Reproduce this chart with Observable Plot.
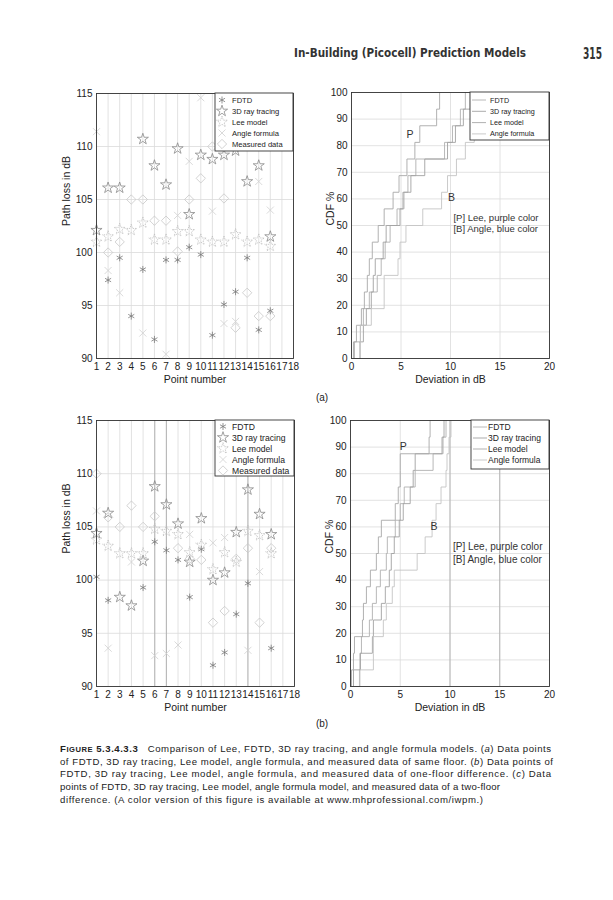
<!DOCTYPE html>
<html><head><meta charset="utf-8">
<script src="https://cdn.jsdelivr.net/npm/d3@7"></script>
<script src="https://cdn.jsdelivr.net/npm/@observablehq/plot@0.6"></script>
<style>
html,body{margin:0;padding:0;background:#fff;}
#page{position:relative;width:613px;height:900px;overflow:hidden;font-family:"Liberation Sans",Arial,sans-serif;}
#page svg{max-width:none;}
</style></head><body><div id="page"></div>
<script>
// ---------- data ----------
const pointNumbers = [1,2,3,4,5,6,7,8,9,10,11,12,13,14,15,16];
const pointTicks = [1,2,3,4,5,6,7,8,9,10,11,12,13,14,15,16,17,18];
const pathLossTicks = [90,95,100,105,110,115];
const deviationTicks = [0,5,10,15,20];
const cdfTicks = [0,10,20,30,40,50,60,70,80,90,100];
const cdfLevels = [0,6.25,12.5,18.75,25,31.25,37.5,43.75,50,56.25,62.5,68.75,75,81.25,87.5,93.75,100];
const seriesNames = ["FDTD","3D ray tracing","Lee model","Angle formula","Measured data"];

// (a) same floor
const fdtdA  = [null,97.4,99.5,94.0,98.4,91.8,99.3,99.3,100.5,99.8,92.2,95.1,96.3,99.5,92.7,94.5];
const rayA   = [102.1,106.1,106.1,null,110.7,108.2,106.4,109.8,103.6,109.2,108.8,109.2,109.6,106.7,108.2,101.5];
const leeA   = [101.0,101.5,102.2,102.1,102.8,101.2,101.2,102.0,102.0,101.2,101.0,101.0,101.7,101.0,101.2,100.6];
const angleA = [111.4,98.3,96.2,null,92.4,null,90.4,103.5,108.6,114.6,103.9,93.3,93.5,null,106.7,104.0];
const measA  = [null,100.0,101.0,105.0,105.0,103.0,103.0,100.1,105.0,107.0,110.0,105.1,92.9,96.2,94.0,94.0];

// (b) one-floor difference
const fdtdB  = [100.3,98.1,null,null,99.3,103.6,102.8,101.9,98.4,102.9,92.0,93.2,96.8,99.7,null,93.6];
const rayB   = [104.4,106.3,98.4,97.6,101.8,108.8,107.1,105.3,101.7,105.8,100.0,100.7,104.5,108.5,106.2,104.3];
const leeB   = [103.8,103.2,102.5,102.5,102.5,104.8,104.6,104.3,102.6,103.3,101.0,102.6,101.7,104.6,104.2,102.5];
const angleB = [106.5,93.6,null,101.7,null,92.9,93.1,93.9,104.3,null,103.5,104.0,null,93.4,100.8,null];
const measB  = [110.0,105.9,105.0,107.0,105.0,106.0,null,103.0,102.0,101.9,96.0,97.1,102.0,103.0,96.0,103.0];

// CDF of deviations (sorted deviations in dB)
const cdfFdtdA  = [0.3,0.9,1.2,1.8,2.6,3.0,3.4,3.9,4.6,5.3,5.7,6.5,9.4,10.2,11.0,11.5];
const cdfRayA   = [0.85,1.2,1.5,2.0,2.2,2.4,3.2,3.5,4.9,5.2,6.0,7.4,9.7,10.5,11.3,12.0];
const cdfLeeA   = [0.2,0.5,1.0,1.3,1.6,1.8,2.1,2.7,3.3,4.2,4.8,5.6,6.4,6.9,8.6,8.9];
const cdfAngleA = [0.9,0.9,2.0,3.3,3.3,4.7,4.9,5.5,7.2,9.1,9.7,10.6,11.5,12.4,12.5,12.6];

const cdfFdtdB  = [0.9,0.95,1.1,1.9,2.2,2.6,3.0,3.6,3.7,4.5,5.0,5.4,6.5,8.3,9.3,9.6];
const cdfRayB   = [0.3,1.0,2.2,2.3,3.1,3.5,3.9,4.1,4.4,4.9,5.3,6.0,6.3,6.5,9.2,9.4];
const cdfLeeB   = [0.1,0.3,0.4,1.2,1.3,1.6,2.0,2.6,2.8,3.1,4.5,4.8,5.0,5.0,7.9,8.0];
const cdfAngleB = [0.95,2.3,2.3,3.3,3.6,4.2,4.4,6.7,7.5,8.2,8.6,9.1,9.6,9.7,9.9,10.1];

// annotations
const annotText = ["P","B"];
const annotXA = [5.9,10.1], annotYA = [84.3,60.3];
const annotXB = [5.3,8.4],  annotYB = [90.2,60.2];
const noteText = ["[P] Lee, purple color","[B] Angle, blue color"];
const noteXA = [10.3,10.3], noteYA = [52.7,48.6];
const noteXB = [10.3,10.3], noteYB = [52.4,47.7];

// ---------- styles ----------
const FONT = "'Liberation Sans', Arial, sans-serif";
const scatterStyle = [
  {symbol:"asterisk", stroke:"#7a7a7a", r:3.3, dash:null},
  {symbol:"star", stroke:"#8a8a8a", r:3.5, dash:null},
  {symbol:"star", stroke:"#bdbdbd", r:3.5, dash:"1.3 0.9"},
  {symbol:"times", stroke:"#d0d0d0", r:3.3, dash:null},
  {symbol:"diamond2", stroke:"#c8c8c8", r:4.2, dash:null}
];
const cdfStyle = ["#b0b0b0","#a2a2a2","#a8a8a8","#c4c4c4"];
const d3Sym = {asterisk:d3.symbolAsterisk, star:d3.symbolStar, times:d3.symbolTimes, diamond2:d3.symbolDiamond2};

const page = document.getElementById("page");
function place(el, left, top){ el.style.position="absolute"; el.style.left=left+"px"; el.style.top=top+"px"; el.style.background="transparent"; page.appendChild(el); }

function scatter(seriesArrays, m, darkGrid){
  const marks = [
    Plot.gridX(pointTicks, {stroke:"#dadada", strokeOpacity:1, strokeWidth:0.8}),
    Plot.gridY(pathLossTicks, {stroke:"#dadada", strokeOpacity:1, strokeWidth:0.8})
  ];
  if (darkGrid) marks.push(Plot.gridX(darkGrid, {stroke:"#a8a8a8", strokeOpacity:1, strokeWidth:0.8}));
  seriesArrays.forEach((arr,k)=>{
    const rows = arr.map((v,i)=>({pt:pointNumbers[i], v})).filter(d=>d.v!=null);
    const st = scatterStyle[k];
    marks.push(Plot.dot(rows,{x:"pt", y:"v", symbol:st.symbol, stroke:st.stroke, fill:"none", r:st.r, strokeWidth:0.8, strokeDasharray:st.dash}));
  });
  marks.push(Plot.frame({stroke:"#333", strokeWidth:0.9}));
  marks.push(Plot.text(["Point number"], {frameAnchor:"bottom", dy:24, fontSize:10.5, fill:"#222"}));
  marks.push(Plot.text(["Path loss in dB"], {frameAnchor:"left", rotate:-90, dx:-30, fontSize:10.5, fill:"#222"}));
  return Plot.plot({
    width:265, height:310, marginLeft:56, marginRight:m.right, marginTop:8, marginBottom:m.bottom,
    style:{fontFamily:FONT, fontSize:"10px", color:"#222", background:"transparent", overflow:"visible"},
    x:{domain:[1,18], ticks:pointTicks, tickSize:0, tickPadding:4, label:null, tickFormat:d=>String(d)},
    y:{domain:[90,115], ticks:pathLossTicks, tickSize:0, tickPadding:4, label:null},
    marks
  });
}

function cdfChart(curves, m, ann, darkGrid){
  const marks = [
    Plot.gridX(deviationTicks, {stroke:"#dadada", strokeOpacity:1, strokeWidth:0.8}),
    Plot.gridY(cdfTicks, {stroke:"#dadada", strokeOpacity:1, strokeWidth:0.8})
  ];
  if (darkGrid) marks.push(Plot.gridX(darkGrid, {stroke:"#a8a8a8", strokeOpacity:1, strokeWidth:0.8}));
  curves.forEach((devs,k)=>{
    const rows = [{d:0,p:cdfLevels[0]}].concat(devs.map((d,i)=>({d, p:cdfLevels[i+1]})));
    marks.push(Plot.line(rows,{x:"d", y:"p", curve:"step-after", stroke:cdfStyle[k], strokeWidth:0.9}));
  });
  marks.push(Plot.text(annotText.map((t,i)=>({t, x:ann.ax[i], y:ann.ay[i]})), {x:"x", y:"y", text:"t", fontSize:10.5, fill:"#333"}));
  marks.push(Plot.text(noteText.map((t,i)=>({t, x:ann.nx[i], y:ann.ny[i]})), {x:"x", y:"y", text:"t", textAnchor:"start", fontSize:ann.fs, fill:"#333"}));
  marks.push(Plot.frame({stroke:"#333", strokeWidth:0.9}));
  marks.push(Plot.text(["Deviation in dB"], {frameAnchor:"bottom", dy:24, fontSize:10.5, fill:"#222"}));
  marks.push(Plot.text(["CDF %"], {frameAnchor:"left", rotate:-90, dx:-21, fontSize:10.5, fill:"#222"}));
  return Plot.plot({
    width:250, height:310, marginLeft:m.left, marginRight:m.right, marginTop:m.top, marginBottom:m.bottom,
    style:{fontFamily:FONT, fontSize:"10px", color:"#222", background:"transparent", overflow:"visible"},
    x:{domain:[0,20], ticks:deviationTicks, tickSize:0, tickPadding:4, label:null},
    y:{domain:[0,100], ticks:cdfTicks, tickSize:0, tickPadding:4, label:null},
    marks
  });
}

function legend(svg, box, kind, fs){
  const g = d3.select(svg).append("g").attr("font-family", FONT).attr("font-size", fs).attr("fill","#222").attr("text-anchor","start");
  g.append("rect").attr("x",box.x).attr("y",box.y).attr("width",box.w).attr("height",box.h)
   .attr("fill","#fff").attr("stroke","#333").attr("stroke-width",0.9);
  const names = kind==="scatter" ? seriesNames : seriesNames.slice(0,4);
  names.forEach((n,i)=>{
    const cy = box.y + box.r0 + i*box.dy;
    if (kind==="scatter"){
      const st = scatterStyle[i];
      g.append("path").attr("d", d3.symbol(d3Sym[st.symbol], Math.PI*st.r*st.r)())
        .attr("transform",`translate(${box.mx},${cy})`).attr("fill","none").attr("stroke",st.stroke)
        .attr("stroke-width",0.8).attr("stroke-dasharray",st.dash);
    } else {
      g.append("line").attr("x1",box.mx-7).attr("x2",box.mx+7).attr("y1",cy).attr("y2",cy)
        .attr("stroke",cdfStyle[i]).attr("stroke-width",0.9);
    }
    g.append("text").attr("x",box.tx).attr("y",cy).attr("dy","0.35em").attr("text-anchor","start").text(n);
  });
}

// ---------- panels ----------
const sA = scatter([fdtdA,rayA,leeA,angleA,measA], {right:12, bottom:37});
legend(sA, {x:175,y:8,w:78,h:58,r0:7,dy:11,mx:182,tx:192}, "scatter", 7.6);
place(sA, 40, 85);

const cA = cdfChart([cdfFdtdA,cdfRayA,cdfLeeA,cdfAngleA], {left:41,right:11,top:7,bottom:37},
  {ax:annotXA, ay:annotYA, nx:noteXA, ny:noteYA, fs:9.5});
legend(cA, {x:160,y:7,w:79,h:48,r0:8,dy:11.3,mx:169,tx:180}, "cdf", 7.2);
place(cA, 310, 85);

const sB = scatter([fdtdB,rayB,leeB,angleB,measB], {right:11, bottom:36}, [6,7,14]);
legend(sB, {x:175,y:8,w:79,h:56,r0:6.5,dy:11,mx:183,tx:192}, "scatter", 8.6);
place(sB, 40, 412);

const cB = cdfChart([cdfFdtdB,cdfRayB,cdfLeeB,cdfAngleB], {left:40,right:11,top:8,bottom:36},
  {ax:annotXB, ay:annotYB, nx:noteXB, ny:noteYB, fs:10}, [10,15]);
legend(cB, {x:161,y:8,w:78,h:49,r0:7,dy:11,mx:170,tx:178}, "cdf", 8.5);
place(cB, 310, 412);

// ---------- page text ----------
const ov = d3.create("svg").attr("width",613).attr("height",900).style("pointer-events","none");
ov.append("text").attr("x",294).attr("y",57).attr("font-family","'DejaVu Sans Condensed','DejaVu Sans',sans-serif")
  .attr("font-weight","bold").attr("font-size",12).attr("fill","#333")
  .attr("textLength",232).attr("lengthAdjust","spacingAndGlyphs").text("In-Building (Picocell) Prediction Models");
ov.append("text").attr("x",583).attr("y",59).attr("font-family","'DejaVu Sans Condensed','DejaVu Sans',sans-serif")
  .attr("font-weight","bold").attr("font-size",16).attr("fill","#333")
  .attr("textLength",19).attr("lengthAdjust","spacingAndGlyphs").text("315");
ov.append("text").attr("x",322).attr("y",401).attr("text-anchor","middle").attr("font-family",FONT).attr("font-size",10).attr("fill","#222").text("(a)");
ov.append("text").attr("x",322).attr("y",727).attr("text-anchor","middle").attr("font-family",FONT).attr("font-size",10).attr("fill","#222").text("(b)");

const capLines = [
  {len:491, parts:[["F",{b:1,fs:9.6}],["IGURE",{b:1,fs:7.6}],[" 5.3.4.3.3",{b:1}],["\u00a0\u00a0\u00a0Comparison of Lee, FDTD, 3D ray tracing, and angle formula models. (",{}],["a",{i:1}],[") Data points",{}]]},
  {len:493, parts:[["of FDTD, 3D ray tracing, Lee model, angle formula, and measured data of same floor. (",{}],["b",{i:1}],[") Data points of",{}]]},
  {len:491, parts:[["FDTD, 3D ray tracing, Lee model, angle formula, and measured data of one-floor difference. (",{}],["c",{i:1}],[") Data",{}]]},
  {len:440, parts:[["points of FDTD, 3D ray tracing, Lee model, angle formula model, and measured data of a two-floor",{}]]},
  {len:423, parts:[["difference. (A color version of this figure is available at www.mhprofessional.com/iwpm.)",{}]]}
];
capLines.forEach((ln,i)=>{
  const t = ov.append("text").attr("x",60).attr("y",752+i*12.7).attr("font-family",FONT).attr("font-size",9.6)
    .attr("fill","#222").attr("textLength",ln.len).attr("lengthAdjust","spacing");
  ln.parts.forEach(([s,o])=>{
    const sp = t.append("tspan").text(s);
    if (o.b) sp.attr("font-weight","bold");
    if (o.i) sp.attr("font-style","italic");
    if (o.fs) sp.attr("font-size",o.fs);
  });
});
const ovNode = ov.node();
ovNode.style.position="absolute"; ovNode.style.left="0px"; ovNode.style.top="0px";
page.appendChild(ovNode);
</script>
</body></html>
